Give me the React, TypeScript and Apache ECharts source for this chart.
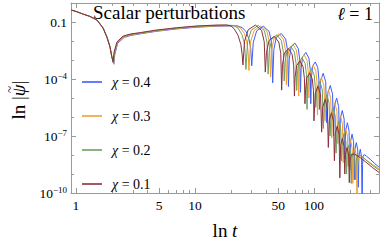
import React, { useEffect, useRef } from 'react';
import * as echarts from 'echarts';

// ---------- data ----------
const seriesNames = ['χ = 0.4', 'χ = 0.3', 'χ = 0.2', 'χ = 0.1'];
const xLabelTicks = [1, 5, 10, 50, 100];
const xMinorTicks = [2, 3, 4, 6, 7, 8, 9, 20, 30, 40, 60, 70, 80, 90, 200, 300];
const yLabelTicks = [1e-10, 1e-7, 1e-4, 0.1];
const yMinorTicks = [1e-9, 1e-8, 1e-6, 1e-5, 1e-3, 1e-2, 1];
const X_MIN = 0.908;
const X_MAX = 352;
const Y_MIN = 1e-10;
const Y_MAX = 1;

const chi04 = [
  [0.908, 0.43], [1, 0.36], [1.15, 0.26], [1.3, 0.2], [1.5, 0.128], [1.69, 0.048], [1.82, 0.016], [1.93, 0.005], [2, 0.0015],
  [2.08, 0.0006], [2.12, 0.002], [2.24, 0.0076], [2.54, 0.0155], [2.9, 0.0198], [3.5, 0.024], [4.8, 0.0327], [7, 0.043], [10.4, 0.0535], [15.3, 0.06], [20, 0.062], [22.5, 0.064], [25, 0.05], [27, 0.03], [28.5, 0.012], [29.4, 0.004], [30, 5e-4],
  [30.9, 8.5e-3], [33, 0.034], [37.5, 0.06], [42, 0.032], [44.1, 7.9e-3], [45, 6.3e-5],
  [46, 3.5e-3], [48.2, 0.0148], [53, 0.025], [57.8, 0.0126], [60, 3.2e-3], [61, 4.0e-5],
  [62, 1.1e-3], [64.2, 4.7e-3], [69, 7.9e-3], [73.8, 4.0e-3], [76, 1.0e-3], [77, 2.0e-5],
  [78, 3.5e-4], [80.4, 1.5e-3], [85.5, 2.5e-3], [90.6, 1.26e-3], [93, 3.2e-4], [94, 5.0e-6],
  [95, 1.1e-4], [97.4, 4.7e-4], [102.5, 7.9e-4], [107.6, 4.0e-4], [110, 1.0e-4], [111, 2.5e-6],
  [113.5, 7.9e-5], [119.5, 2.0e-4], [125.5, 7.1e-5], [128, 5.0e-7],
  [130.7, 1.8e-5], [137, 4.5e-5], [143.3, 1.6e-5], [146, 1.0e-7],
  [148.7, 4.0e-6], [155, 1.0e-5], [161.3, 3.5e-6], [164, 3.2e-8],
  [166.7, 8.9e-7], [173, 2.2e-6], [179.3, 7.9e-7], [182, 6.3e-9],
  [184.7, 2.0e-7], [191, 5.0e-7], [197.3, 1.8e-7], [200, 1.6e-9],
  [202.7, 5.0e-8], [209, 1.26e-7], [215.3, 5.0e-8], [218, 5.0e-10],
  [220.7, 2.0e-8], [227, 4.5e-8], [233.3, 1.8e-8], [236, 2.0e-10],
  [238.7, 8.9e-9], [245, 2.0e-8], [251.3, 7.9e-9], [254, 1e-11],
  [256, 3.2e-9], [259, 8.9e-9], [264, 1.05e-8], [275, 8.9e-9], [300, 5.6e-9], [325, 3.5e-9], [352, 2.3e-9],
];

const chi03 = [
  [0.908, 0.43], [1, 0.36], [1.15, 0.26], [1.3, 0.2], [1.5, 0.128], [1.69, 0.048], [1.82, 0.016], [1.93, 0.005], [2, 0.0015],
  [2.07, 0.00065], [2.11, 0.0022], [2.23, 0.008], [2.52, 0.0162], [2.88, 0.0207], [3.5, 0.0252], [4.8, 0.034], [7, 0.045], [10.4, 0.056], [15.3, 0.062], [20, 0.064], [21.5, 0.066], [24, 0.05], [26, 0.025], [27.2, 0.01], [28, 0.0025], [28.4, 2.8e-4],
  [29.3, 8.9e-3], [31.4, 0.035], [35.8, 0.063], [40.2, 0.033], [42.3, 8.3e-3], [43.2, 1.26e-4],
  [44.1, 3.4e-3], [46.3, 0.0141], [50.9, 0.024], [55.5, 0.012], [57.7, 3.0e-3], [58.6, 5.0e-5],
  [59.5, 9.3e-4], [61.8, 3.9e-3], [66.5, 6.6e-3], [71.2, 3.3e-3], [73.5, 8.3e-4], [74.4, 1.26e-5],
  [75.4, 2.7e-4], [77.6, 1.1e-3], [82.5, 1.9e-3], [87.4, 9.5e-4], [89.6, 2.4e-4], [90.6, 1.0e-5],
  [91.6, 7.4e-5], [93.9, 3.1e-4], [98.8, 5.2e-4], [103.7, 2.6e-4], [106, 6.6e-5], [107, 1.26e-6],
  [109.6, 4.8e-5], [115.5, 1.2e-4], [121.4, 4.3e-5], [124, 6.3e-7],
  [126.6, 1.05e-5], [132.5, 2.6e-5], [138.4, 9.3e-6], [141, 7.9e-8],
  [143.6, 2.2e-6], [149.7, 5.6e-6], [155.9, 2.0e-6], [158.5, 4.0e-8],
  [161.1, 4.8e-7], [167.2, 1.2e-6], [173.4, 4.3e-7], [176, 4.0e-9],
  [178.7, 1.05e-7], [185, 2.6e-7], [191.3, 9.3e-8], [194, 2.5e-9],
  [196.7, 2.5e-8], [203, 6.3e-8], [209.3, 2.2e-8], [212, 3.2e-10],
  [214.7, 1.0e-8], [221, 2.2e-8], [227.3, 8.9e-9], [230, 1e-11],
  [232, 2.5e-9], [236, 7.6e-9], [243, 8.9e-9], [258, 7.6e-9], [280, 5.0e-9], [310, 3.2e-9], [352, 1.9e-9],
];

const chi02 = [
  [0.908, 0.43], [1, 0.36], [1.15, 0.26], [1.3, 0.2], [1.5, 0.128], [1.69, 0.048], [1.82, 0.016], [1.93, 0.005], [2, 0.0015],
  [2.06, 0.0007], [2.1, 0.0024], [2.22, 0.0084], [2.5, 0.017], [2.86, 0.022], [3.5, 0.0266], [4.8, 0.036], [7, 0.0475], [10.4, 0.059], [15.3, 0.066], [19.5, 0.067], [21, 0.066], [23, 0.048], [24.8, 0.022], [25.9, 0.0085], [26.4, 0.0025], [26.8, 3.2e-4],
  [27.7, 9.3e-3], [29.7, 0.037], [34, 0.066], [38.3, 0.035], [40.3, 8.7e-3], [41.2, 1.8e-4],
  [42.1, 3.0e-3], [44.2, 0.0123], [48.7, 0.021], [53.2, 0.0105], [55.3, 2.6e-3], [56.2, 7.9e-5],
  [57.1, 7.4e-4], [59.3, 3.1e-3], [63.9, 5.2e-3], [68.5, 2.6e-3], [70.7, 6.6e-4], [71.6, 2.5e-5],
  [72.5, 1.9e-4], [74.8, 7.8e-4], [79.5, 1.3e-3], [84.2, 6.6e-4], [86.5, 1.66e-4], [87.4, 2.5e-6],
  [88.4, 4.7e-5], [90.6, 1.95e-4], [95.5, 3.3e-4], [100.3, 1.66e-4], [102.5, 4.2e-5], [103.5, 3.2e-6],
  [106, 3.0e-5], [111.8, 7.6e-5], [117.5, 2.7e-5], [120, 2.5e-7],
  [122.5, 6.0e-6], [128.3, 1.5e-5], [134, 5.4e-6], [136.5, 1.0e-7],
  [139, 1.26e-6], [145, 3.2e-6], [151, 1.1e-6], [153.5, 1.26e-8],
  [156, 2.5e-7], [162, 6.3e-7], [168, 2.2e-7], [170.5, 5.0e-9],
  [173.1, 5.6e-8], [179.3, 1.4e-7], [185.4, 5.0e-8], [188, 1.0e-9],
  [190.6, 1.6e-8], [196.8, 3.5e-8], [202.9, 1.4e-8], [205.5, 3.2e-10],
  [208, 7.1e-9], [214.3, 1.4e-8], [220.4, 6.3e-9], [223, 5.0e-10],
  [226, 4.5e-9], [232, 1.0e-8], [245, 9.3e-9], [260, 7.1e-9], [290, 4.0e-9], [320, 2.5e-9], [352, 1.6e-9],
];

const chi01 = [
  [0.908, 0.43], [1, 0.36], [1.15, 0.26], [1.3, 0.2], [1.5, 0.128], [1.69, 0.048], [1.82, 0.016], [1.93, 0.005], [2, 0.0015],
  [2.05, 0.0008], [2.09, 0.0026], [2.21, 0.0089], [2.48, 0.018], [2.84, 0.023], [3.5, 0.028], [4.8, 0.038], [7, 0.05], [10.4, 0.062], [15.3, 0.069], [18.5, 0.07], [20, 0.062], [21.3, 0.045], [23, 0.02], [24.3, 0.0065], [24.9, 0.002], [25.3, 5.5e-4],
  [26.1, 9.8e-3], [28, 0.039], [32.2, 0.069], [36.3, 0.036], [38.2, 9.1e-3], [39, 2.3e-4],
  [39.9, 2.5e-3], [41.9, 0.0105], [46.3, 0.0178], [50.6, 8.9e-3], [52.6, 2.2e-3], [53.5, 2.6e-5],
  [54.4, 5.6e-4], [56.5, 2.3e-3], [61, 4.0e-3], [65.5, 2.0e-3], [67.6, 5.0e-4], [68.5, 1.26e-5],
  [69.4, 1.26e-4], [71.6, 5.2e-4], [76.3, 8.9e-4], [80.9, 4.5e-4], [83.1, 1.1e-4], [84, 5.0e-6],
  [85, 2.8e-5], [87.2, 1.17e-4], [92, 2.0e-4], [96.8, 1.0e-4], [99, 2.5e-5], [100, 6.3e-7],
  [102.4, 1.66e-5], [108, 4.2e-5], [113.6, 1.5e-5], [116, 1.6e-7],
  [118.4, 3.3e-6], [124, 8.3e-6], [129.6, 3.0e-6], [132, 2.5e-8],
  [134.5, 6.6e-7], [140.3, 1.66e-6], [146, 5.9e-7], [148.5, 5.0e-9],
  [151, 1.3e-7], [156.8, 3.3e-7], [162.5, 1.17e-7], [165, 6.3e-10],
  [167.5, 3.2e-8], [173.3, 7.6e-8], [179, 2.8e-8], [181.5, 1.0e-9],
  [184, 1.1e-8], [189.8, 2.5e-8], [195.5, 1.0e-8], [198, 3.5e-10],
  [201, 5.0e-9], [207, 1.1e-8], [220, 1.1e-8], [240, 7.9e-9], [270, 4.5e-9], [310, 2.2e-9], [352, 1.2e-9],
];

const seriesData = [chi04, chi03, chi02, chi01];

// ---------- styles ----------
const COLORS = ['#3a5cff', '#f0a030', '#6fa060', '#8c2f3c'];
const FRAME = '#9a9a9a';
const FONT = '"Liberation Serif", "DejaVu Serif", serif';

export default function App() {
  const ref = useRef<HTMLDivElement>(null);
  useEffect(() => {
    if (!ref.current) return;
    const chart = echarts.init(ref.current, null, { renderer: 'svg' });

    const xBase = (position: string, ticks: number[], len: number, showLine: boolean, showLabel: boolean) => ({
      type: 'log',
      logBase: 10,
      position,
      min: X_MIN,
      max: X_MAX,
      axisLine: { show: showLine, onZero: false, lineStyle: { color: FRAME, width: 1 } },
      axisTick: { show: true, inside: true, length: len, customValues: ticks, lineStyle: { color: FRAME, width: 1 } },
      axisLabel: showLabel
        ? {
            show: true,
            customValues: xLabelTicks,
            margin: 5,
            color: '#000',
            fontFamily: FONT,
            fontSize: 13.5,
            formatter: (v: number) => String(Math.round(v)),
          }
        : { show: false },
      splitLine: { show: false },
    });

    const yBase = (position: string, ticks: number[], len: number, showLine: boolean, showLabel: boolean) => ({
      type: 'log',
      logBase: 10,
      position,
      min: Y_MIN,
      max: Y_MAX,
      axisLine: { show: showLine, onZero: false, lineStyle: { color: FRAME, width: 1 } },
      axisTick: { show: true, inside: true, length: len, customValues: ticks, lineStyle: { color: FRAME, width: 1 } },
      axisLabel: showLabel
        ? {
            show: true,
            customValues: yLabelTicks,
            margin: 4,
            color: '#000',
            fontFamily: FONT,
            fontSize: 13.5,
            formatter: (v: number) => {
              const e = Math.round(Math.log10(v));
              if (e === -1) return '{b|0.1}';
              return '{b|10}{s|−' + String(-e) + '}';
            },
            rich: {
              b: { fontFamily: FONT, fontSize: 13.5, color: '#000', lineHeight: 16 },
              s: { fontFamily: FONT, fontSize: 9, color: '#000', verticalAlign: 'top', lineHeight: 10 },
            },
          }
        : { show: false },
      splitLine: { show: false },
    });

    chart.setOption({
      animation: false,
      backgroundColor: '#fff',
      grid: { left: 71, top: 3, width: 308, height: 190, containLabel: false, outerBoundsMode: 'none' },
      xAxis: [
        xBase('bottom', xLabelTicks, 5, true, true),
        xBase('bottom', xMinorTicks, 3, false, false),
        xBase('top', xLabelTicks, 5, true, false),
        xBase('top', xMinorTicks, 3, false, false),
      ],
      yAxis: [
        yBase('left', yLabelTicks, 5, true, true),
        yBase('left', yMinorTicks, 3, false, false),
        yBase('right', yLabelTicks, 5, true, false),
        yBase('right', yMinorTicks, 3, false, false),
      ],
      legend: {
        orient: 'vertical',
        left: 77,
        top: 69,
        itemGap: 18,
        itemWidth: 20,
        itemHeight: 1.6,
        icon: 'rect',
        data: seriesNames,
        formatter: (name: string) => name.replace('χ', '{i|χ}'),
        textStyle: {
          fontFamily: FONT,
          fontSize: 14,
          color: '#000',
          lineHeight: 16,
          padding: [0, 0, 0, 5],
          rich: {
            i: { fontFamily: FONT, fontSize: 14, fontStyle: 'italic', color: '#000', lineHeight: 16 },
          },
        },
      },
      series: seriesData.map((d, i) => ({
        type: 'line',
        name: seriesNames[i],
        data: d,
        xAxisIndex: 0,
        yAxisIndex: 0,
        showSymbol: false,
        symbol: 'none',
        clip: true,
        color: COLORS[i],
        lineStyle: { color: COLORS[i], width: 1 },
      })),
      graphic: [
        {
          type: 'text',
          x: 93,
          y: 12.5,
          style: { text: 'Scalar perturbations', font: '19px ' + FONT, fill: '#000', verticalAlign: 'middle', align: 'left' },
        },
        {
          type: 'text',
          x: 373,
          y: 14,
          style: {
            text: '{i|ℓ} = 1',
            fontFamily: FONT,
            fontSize: 18,
            fill: '#000',
            align: 'right',
            verticalAlign: 'middle',
            rich: { i: { fontFamily: FONT, fontSize: 18, fontStyle: 'italic', fill: '#000' } },
          },
        },
        {
          type: 'group',
          x: 18,
          y: 100,
          rotation: Math.PI / 2,
          children: [
            {
              type: 'text',
              x: 0,
              y: 0,
              style: {
                text: 'ln |{i|ψ}|',
                fontFamily: FONT,
                fontSize: 19,
                fill: '#000',
                align: 'center',
                verticalAlign: 'middle',
                rich: { i: { fontFamily: FONT, fontSize: 19, fontStyle: 'italic', fill: '#000' } },
              },
            },
            {
              type: 'text',
              x: 10.5,
              y: -9,
              style: {
                text: '~',
                fontFamily: FONT,
                fontSize: 13,
                fill: '#000',
                align: 'center',
                verticalAlign: 'middle',
              },
            },
          ],
        },
        {
          type: 'text',
          x: 225,
          y: 230,
          style: {
            text: 'ln {i|t}',
            fontFamily: FONT,
            fontSize: 19,
            fill: '#000',
            align: 'center',
            verticalAlign: 'middle',
            rich: { i: { fontFamily: FONT, fontSize: 19, fontStyle: 'italic', fill: '#000' } },
          },
        },
      ],
    });
    return () => chart.dispose();
  }, []);
  return <div ref={ref} style={{ position: 'fixed', left: 0, top: 0, width: 383, height: 248 }} />;
}
